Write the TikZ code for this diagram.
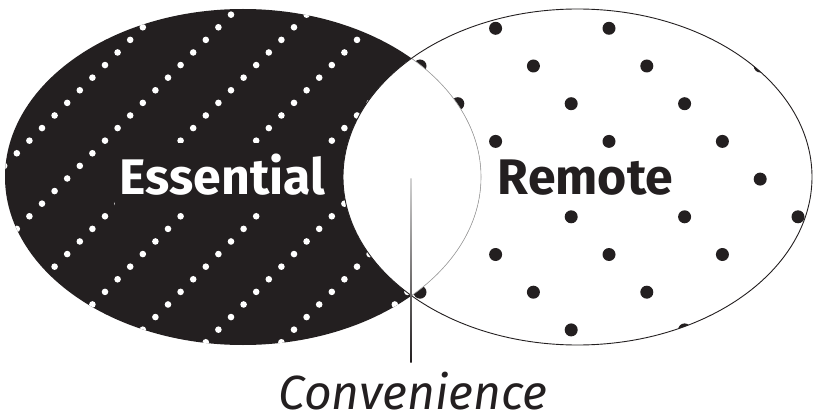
\documentclass[tikz,border=0pt]{standalone}
\usepackage{fontspec}
\setmainfont{Fira Sans}
\definecolor{ink}{HTML}{231F20}
\begin{document}
\begin{tikzpicture}[x=1pt,y=-1pt,
  lab/.style={font=\fontsize{50}{58}\selectfont\bfseries, inner xsep=5pt, inner ysep=10pt, text depth=3pt, anchor=base},
  wdot/.style={fill=white},
  bdot/.style={fill=ink}]
\useasboundingbox (0,0) rectangle (814,417);
% left ellipse
\fill[ink] (243,177) ellipse [x radius=238, y radius=168];
\begin{scope}
  \clip (243,177) ellipse [x radius=238, y radius=168];
  \foreach \m in {-3,...,8}{
    \foreach \k in {-3,...,30}{
      \fill[wdot] ({231+75.6*\m-12.6*\k},{14.67+12.6*\k}) circle [radius=3.3];
    }}
\end{scope}
% right ellipse dots
\begin{scope}
  \clip (577.5,177) ellipse [x radius=234.5, y radius=168];
  \foreach \n in {-3,...,3}{
    \foreach \j in {0,...,8}{
      \fill[bdot] ({495.6+37.8*\j+113.4*\n},{28.3+37.7*\j}) circle [radius=6.5];
    }}
\end{scope}
% lens
\begin{scope}
  \clip (243,177) ellipse [x radius=238, y radius=168];
  \fill[white] (577.5,177) ellipse [x radius=234.5, y radius=168];
\end{scope}
\begin{scope}
  \clip (577.5,177) ellipse [x radius=234.5, y radius=168];
  \draw[gray!75, line width=0.6pt] (243,177) ellipse [x radius=238, y radius=168];
\end{scope}
\draw[ink, line width=0.9pt] (577.5,177) ellipse [x radius=234.5, y radius=168];
% labels
\node[lab, text=white, fill=ink] (ess) at (222.5,194) {Essential};
\node[lab, text=ink, fill=white] (rem) at (585.5,194) {Remote};
\node[font=\fontsize{48}{56}\selectfont\itshape, text=ink, anchor=base, inner sep=0pt] (conv) at (413,409) {Convenience};
% pointer
\coordinate (lenscentre) at (411,178);
\coordinate (lineend) at (411,362);
\shade[top color=gray!35, bottom color=ink] ([xshift=-0.6pt]lenscentre) rectangle ([xshift=0.6pt]lineend);
\end{tikzpicture}
\end{document}
